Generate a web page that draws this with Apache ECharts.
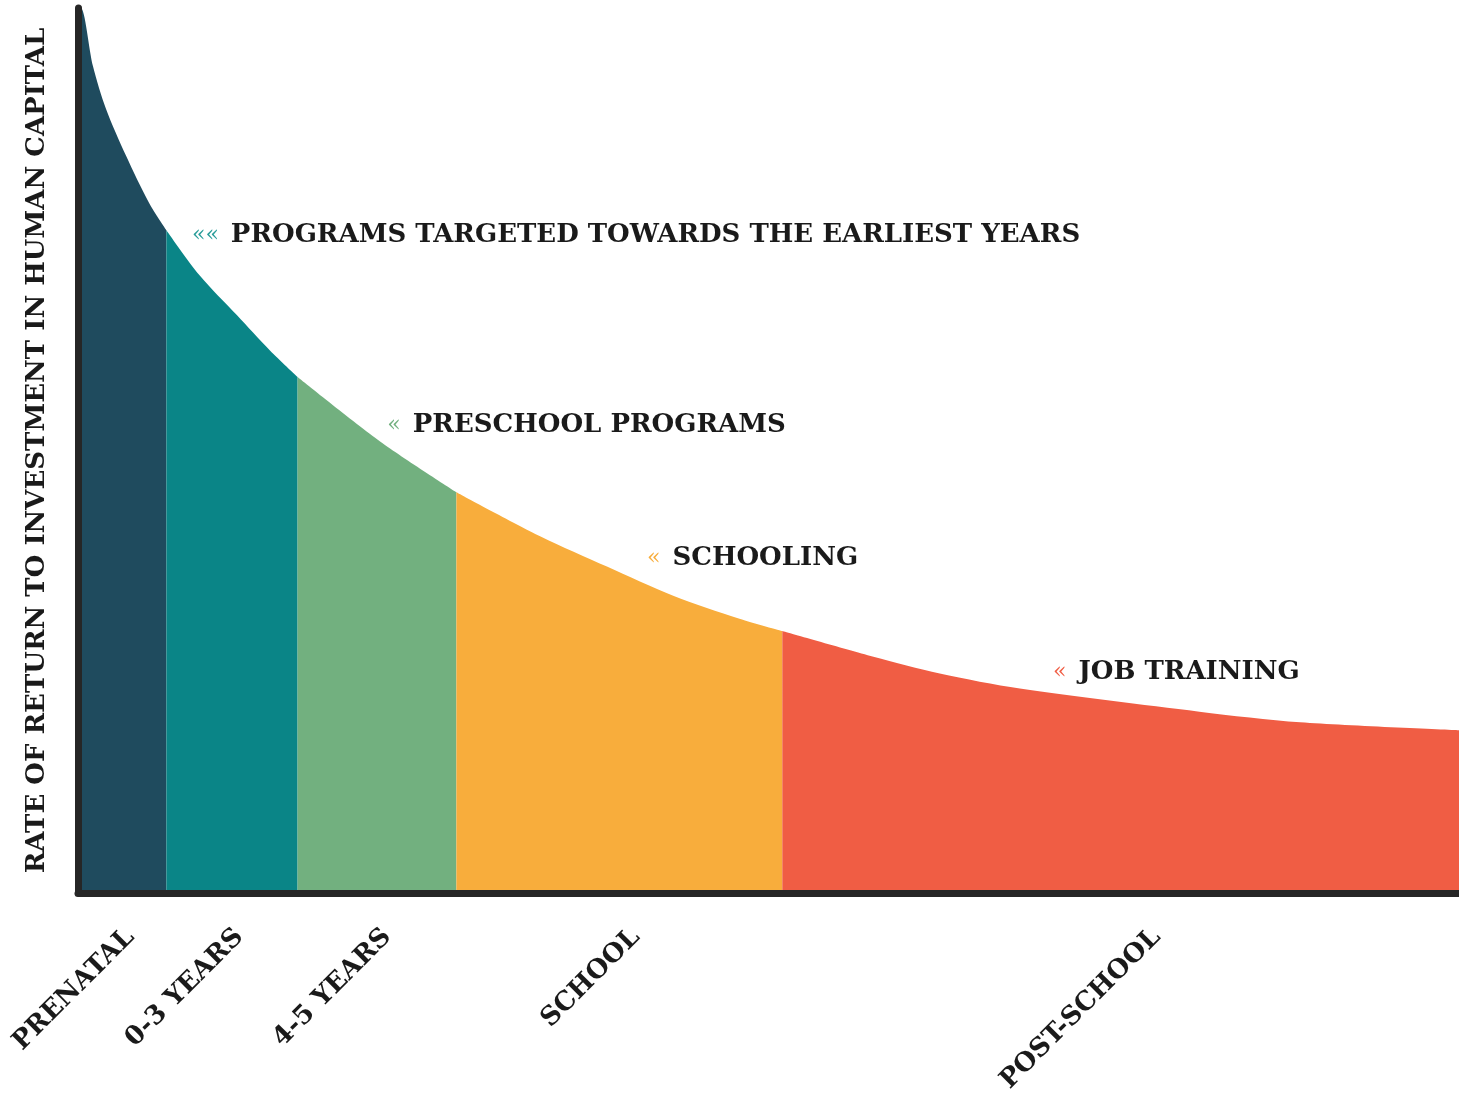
<!DOCTYPE html>
<html>
<head>
<meta charset="utf-8">
<script src="https://cdn.jsdelivr.net/npm/echarts@6/dist/echarts.min.js"></script>
<style>
html, body { margin: 0; padding: 0; background: #fff; }
#chart { width: 1459px; height: 1096px; }
</style>
</head>
<body>
<div id="chart"></div>
<script>
// curve (x: 0..100 across the stages, y: 0..100 return)
var curveX = [0.2, 1.09, 2.03, 3.48, 5.14, 6.4, 8.8, 11.5, 13.9, 15.9, 21.9, 27.4, 33.5, 38.3, 43.1, 47.9, 51.0, 57.6, 62.4, 68.2, 81.2, 88.5, 100];
var curveY = [100, 93.4, 88.6, 83.3, 78.0, 74.9, 69.8, 65.3, 61.3, 58.3, 51.0, 45.3, 40.3, 36.9, 33.6, 31.0, 29.6, 26.7, 24.8, 23.1, 20.5, 19.3, 18.4];

var stages = ['PRENATAL', '0-3 YEARS', '4-5 YEARS', 'SCHOOL', 'POST-SCHOOL'];
var stageBounds = [0, 6.4, 15.9, 27.4, 51.0, 100];
var stageLabelAt = [3.8, 11.7, 22.4, 40.4, 78.1];
var stageColors = ['#1f4b5e', '#0a8587', '#72b07f', '#f8ad3c', '#f05d44'];

var notes = ['PROGRAMS TARGETED TOWARDS THE EARLIEST YEARS', 'PRESCHOOL PROGRAMS', 'SCHOOLING', 'JOB TRAINING'];
var noteX = [8.25, 22.4, 41.2, 70.6];
var noteY = [74.3, 52.9, 37.8, 24.9];
var noteMarks = ['««', '«', '«', '«'];
var noteColors = ['#2a9d9a', '#72b07f', '#f8ad3c', '#f05d44'];

var font = 'DejaVu Serif';
var chart = echarts.init(document.getElementById('chart'));

var series = [];
for (var s = 0; s < stages.length; s++) {
  var pts = [];
  if (stageBounds[s] < curveX[0]) pts.push([stageBounds[s], curveY[0]]);
  for (var i = 0; i < curveX.length; i++) {
    if (curveX[i] >= stageBounds[s] && curveX[i] <= stageBounds[s + 1]) {
      pts.push([curveX[i], curveY[i]]);
    }
  }
  series.push({
    name: stages[s],
    type: 'line',
    data: pts,
    smooth: 0.3,
    showSymbol: false,
    lineStyle: { width: 0, color: stageColors[s] },
    areaStyle: { color: stageColors[s], opacity: 1 },
    silent: true
  });
}

var noteData = [];
for (var n = 0; n < notes.length; n++) {
  noteData.push({
    value: [noteX[n], noteY[n]],
    label: {
      formatter: '{m' + n + '|' + noteMarks[n] + '}{t|' + notes[n] + '}'
    }
  });
}
var rich = {
  t: { fontFamily: font, fontWeight: 'bold', fontSize: 26, color: '#1a1a1a' }
};
for (var k = 0; k < notes.length; k++) {
  rich['m' + k] = { fontFamily: font, fontSize: 22, color: noteColors[k], padding: [0, 12, 0, 0] };
}
series.push({
  type: 'scatter',
  data: noteData,
  symbolSize: 0,
  silent: true,
  itemStyle: { opacity: 1, color: 'transparent' },
  label: {
    show: true,
    position: 'right',
    distance: 0,
    color: '#1a1a1a',
    opacity: 1,
    rich: rich
  }
});

var option = {
  backgroundColor: '#ffffff',
  animation: false,
  grid: { left: 78, right: 0, top: 8, bottom: 196 },
  xAxis: {
    type: 'value',
    min: 0,
    max: 100,
    z: 10,
    splitLine: { show: false },
    axisTick: { show: false },
    axisLine: { show: true, lineStyle: { color: '#262626', width: 7 } },
    axisLabel: {
      customValues: stageLabelAt,
      rotate: 45,
      margin: 40,
      fontFamily: font,
      fontWeight: 'bold',
      fontSize: 26,
      color: '#1a1a1a',
      formatter: function (v) {
        var idx = stageLabelAt.indexOf(v);
        return idx >= 0 ? stages[idx] : '';
      }
    }
  },
  yAxis: {
    type: 'value',
    min: 0,
    max: 100,
    z: 10,
    name: 'RATE OF RETURN TO INVESTMENT IN HUMAN CAPITAL',
    nameLocation: 'middle',
    nameGap: 28,
    nameTextStyle: {
      fontFamily: font,
      fontWeight: 'bold',
      fontSize: 26,
      color: '#1a1a1a'
    },
    splitLine: { show: false },
    axisTick: { show: false },
    axisLabel: { show: false },
    axisLine: { show: true, lineStyle: { color: '#262626', width: 7 } }
  },
  series: series
};
chart.setOption(option);
</script>
</body>
</html>
